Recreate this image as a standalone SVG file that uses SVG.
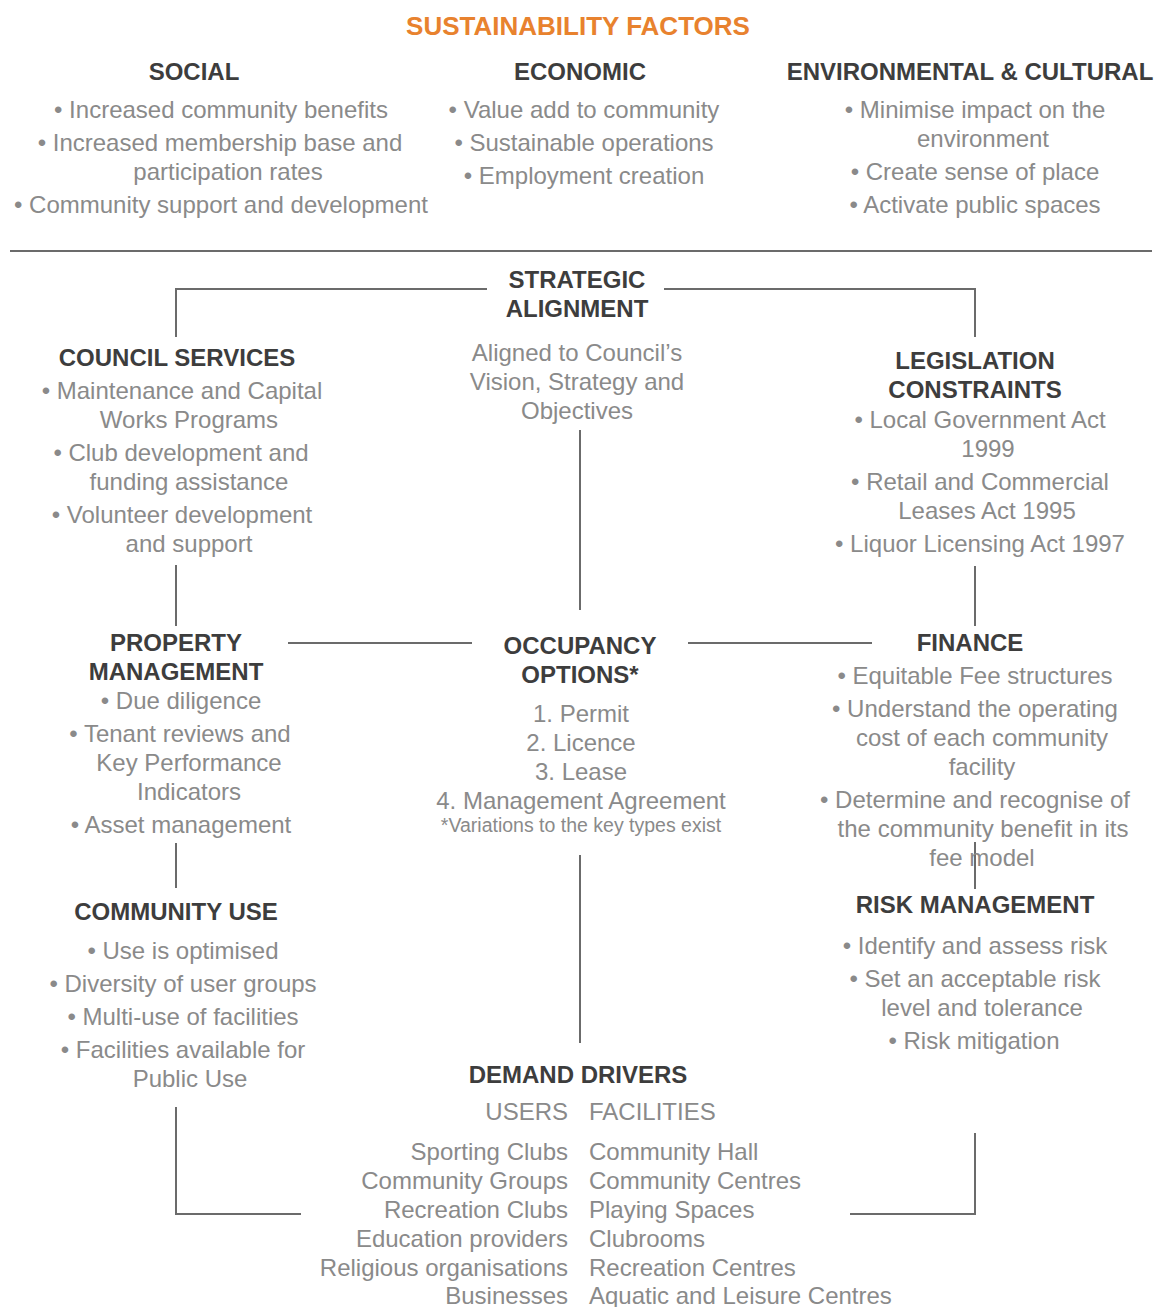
<svg xmlns="http://www.w3.org/2000/svg" width="1156" height="1307" viewBox="0 0 1156 1307">
<style>
text{font-family:"Liberation Sans",Arial,Helvetica,sans-serif;text-anchor:middle}
.title{font-size:26px;font-weight:bold;fill:#E8822E}
.h{font-size:24px;font-weight:bold;fill:#3d3d3d}
.b{font-size:24px;fill:#8a8a8a}
.s{font-size:19.5px;fill:#8a8a8a}
.r{text-anchor:end}
.l{text-anchor:start}
.c{fill:none;stroke:#6b6b6b;stroke-width:2}
</style>
<rect width="1156" height="1307" fill="#ffffff"/>
<g id="sustainability">
<text class="title" x="578" y="35">SUSTAINABILITY FACTORS</text>
</g>
<g id="social">
<text class="h" x="194" y="80">SOCIAL</text>
<text class="b" x="221" y="118">• Increased community benefits</text>
<text class="b" x="220" y="151">• Increased membership base and</text>
<text class="b" x="228" y="180">participation rates</text>
<text class="b" x="221" y="213">• Community support and development</text>
</g>
<g id="economic">
<text class="h" x="580" y="80">ECONOMIC</text>
<text class="b" x="584" y="118">• Value add to community</text>
<text class="b" x="584" y="151">• Sustainable operations</text>
<text class="b" x="584" y="184">• Employment creation</text>
</g>
<g id="environmental">
<text class="h" x="970" y="80">ENVIRONMENTAL &amp; CULTURAL</text>
<text class="b" x="975" y="118">• Minimise impact on the</text>
<text class="b" x="983" y="147">environment</text>
<text class="b" x="975" y="180">• Create sense of place</text>
<text class="b" x="975" y="213">• Activate public spaces</text>
</g>
<g id="connectors">
<line class="c" x1="10" y1="251" x2="1152" y2="251"/>
<polyline class="c" points="487,289 176,289 176,337"/>
<polyline class="c" points="664,289 975,289 975,337"/>
<line class="c" x1="580" y1="430" x2="580" y2="610"/>
<line class="c" x1="176" y1="565" x2="176" y2="626"/>
<line class="c" x1="975" y1="566" x2="975" y2="626"/>
<line class="c" x1="288" y1="643" x2="472" y2="643"/>
<line class="c" x1="688" y1="643" x2="872" y2="643"/>
<line class="c" x1="176" y1="843" x2="176" y2="888"/>
<line class="c" x1="975" y1="842" x2="975" y2="889"/>
<line class="c" x1="580" y1="855" x2="580" y2="1043"/>
<polyline class="c" points="176,1107 176,1214 301,1214"/>
<polyline class="c" points="975,1133 975,1214 850,1214"/>
</g>
<g id="strategic-alignment">
<text class="h" x="577" y="288">STRATEGIC</text>
<text class="h" x="577" y="317">ALIGNMENT</text>
<text class="b" x="577" y="361">Aligned to Council’s</text>
<text class="b" x="577" y="390">Vision, Strategy and</text>
<text class="b" x="577" y="419">Objectives</text>
</g>
<g id="council-services">
<text class="h" x="177" y="366">COUNCIL SERVICES</text>
<text class="b" x="182" y="399">• Maintenance and Capital</text>
<text class="b" x="189" y="428">Works Programs</text>
<text class="b" x="181" y="461">• Club development and</text>
<text class="b" x="189" y="490">funding assistance</text>
<text class="b" x="182" y="523">• Volunteer development</text>
<text class="b" x="189" y="552">and support</text>
</g>
<g id="legislation-constraints">
<text class="h" x="975" y="369">LEGISLATION</text>
<text class="h" x="975" y="398">CONSTRAINTS</text>
<text class="b" x="980" y="428">• Local Government Act</text>
<text class="b" x="988" y="457">1999</text>
<text class="b" x="980" y="490">• Retail and Commercial</text>
<text class="b" x="987" y="519">Leases Act 1995</text>
<text class="b" x="980" y="552">• Liquor Licensing Act 1997</text>
</g>
<g id="property-management">
<text class="h" x="176" y="651">PROPERTY</text>
<text class="h" x="176" y="680">MANAGEMENT</text>
<text class="b" x="181" y="709">• Due diligence</text>
<text class="b" x="180" y="742">• Tenant reviews and</text>
<text class="b" x="189" y="771">Key Performance</text>
<text class="b" x="189" y="800">Indicators</text>
<text class="b" x="181" y="833">• Asset management</text>
</g>
<g id="occupancy-options">
<text class="h" x="580" y="654">OCCUPANCY</text>
<text class="h" x="580" y="683">OPTIONS*</text>
<text class="b" x="581" y="722">1. Permit</text>
<text class="b" x="581" y="751">2. Licence</text>
<text class="b" x="581" y="780">3. Lease</text>
<text class="b" x="581" y="809">4. Management Agreement</text>
<text class="s" x="581" y="832">*Variations to the key types exist</text>
</g>
<g id="finance">
<text class="h" x="970" y="651">FINANCE</text>
<text class="b" x="975" y="684">• Equitable Fee structures</text>
<text class="b" x="975" y="717">• Understand the operating</text>
<text class="b" x="982" y="746">cost of each community</text>
<text class="b" x="982" y="775">facility</text>
<text class="b" x="975" y="808">• Determine and recognise of</text>
<text class="b" x="983" y="837">the community benefit in its</text>
<text class="b" x="982" y="866">fee model</text>
</g>
<g id="community-use">
<text class="h" x="176" y="920">COMMUNITY USE</text>
<text class="b" x="183" y="959">• Use is optimised</text>
<text class="b" x="183" y="992">• Diversity of user groups</text>
<text class="b" x="183" y="1025">• Multi-use of facilities</text>
<text class="b" x="183" y="1058">• Facilities available for</text>
<text class="b" x="190" y="1087">Public Use</text>
</g>
<g id="risk-management">
<text class="h" x="975" y="913">RISK MANAGEMENT</text>
<text class="b" x="975" y="954">• Identify and assess risk</text>
<text class="b" x="975" y="987">• Set an acceptable risk</text>
<text class="b" x="982" y="1016">level and tolerance</text>
<text class="b" x="974" y="1049">• Risk mitigation</text>
</g>
<g id="demand-drivers">
<text class="h" x="578" y="1083">DEMAND DRIVERS</text>
<text class="b r" x="568" y="1120">USERS</text>
<text class="b l" x="589" y="1120">FACILITIES</text>
<text class="b r" x="568" y="1160">Sporting Clubs</text>
<text class="b r" x="568" y="1189">Community Groups</text>
<text class="b r" x="568" y="1218">Recreation Clubs</text>
<text class="b r" x="568" y="1247">Education providers</text>
<text class="b r" x="568" y="1276">Religious organisations</text>
<text class="b r" x="568" y="1304">Businesses</text>
<text class="b l" x="589" y="1160">Community Hall</text>
<text class="b l" x="589" y="1189">Community Centres</text>
<text class="b l" x="589" y="1218">Playing Spaces</text>
<text class="b l" x="589" y="1247">Clubrooms</text>
<text class="b l" x="589" y="1276">Recreation Centres</text>
<text class="b l" x="589" y="1304">Aquatic and Leisure Centres</text>
</g>
</svg>
